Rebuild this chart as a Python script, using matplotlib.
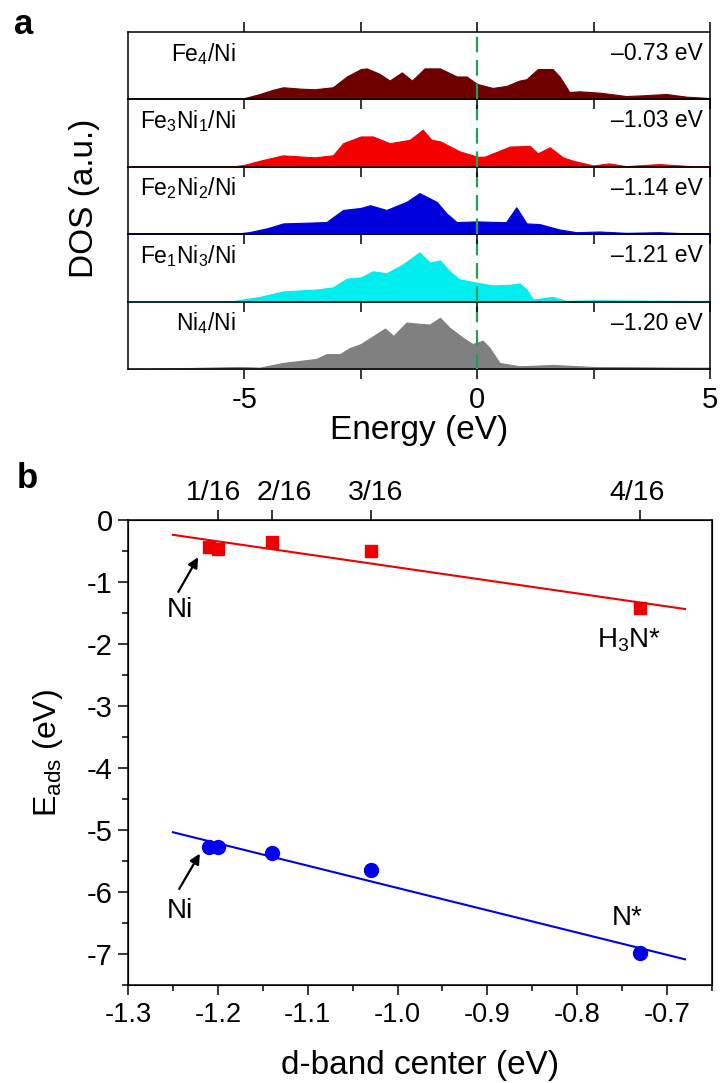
import numpy as np
import matplotlib
matplotlib.use("Agg")
import matplotlib.pyplot as plt
from matplotlib.ticker import MultipleLocator, FixedLocator
from matplotlib.transforms import ScaledTranslation

plt.rcParams['font.family'] = ['Liberation Sans', 'DejaVu Sans']
plt.rcParams['mathtext.default'] = 'regular'

# ---------------- panel a data ----------------
dos_labels = ["Fe$_4$/Ni", "Fe$_3$Ni$_1$/Ni", "Fe$_2$Ni$_2$/Ni", "Fe$_1$Ni$_3$/Ni", "Ni$_4$/Ni"]
dband_labels = ["\u20130.73 eV", "\u20131.03 eV", "\u20131.14 eV", "\u20131.21 eV", "\u20131.20 eV"]
dos_colors = ["#6E0000", "#F50000", "#0000DD", "#00EEEE", "#808080"]

e_fe4 = [-7.5, -5.3, -5.0, -4.67, -4.4, -4.17, -3.8, -3.5, -3.1, -2.8, -2.5, -2.37, -2.1, -1.88,
         -1.62, -1.4, -1.13, -0.8, -0.44, -0.23, 0.0, 0.33, 0.63, 0.91, 1.06, 1.3, 1.62, 1.77,
         1.98, 2.2, 2.63, 3.2, 3.55, 4.06, 4.5, 5.0]
d_fe4 = [0, 0.0, 0.02, 0.08, 0.14, 0.18, 0.16, 0.15, 0.18, 0.34, 0.45, 0.46, 0.38, 0.28,
         0.40, 0.28, 0.46, 0.46, 0.34, 0.34, 0.23, 0.17, 0.20, 0.28, 0.30, 0.45, 0.45, 0.34,
         0.11, 0.12, 0.10, 0.05, 0.06, 0.08, 0.04, 0.02]

e_fe3 = [-7.5, -5.3, -5.0, -4.67, -4.17, -3.5, -3.1, -2.88, -2.5, -2.24, -1.88, -1.45, -1.17,
         -0.98, -0.8, -0.38, 0.0, 0.16, 0.7, 1.13, 1.3, 1.56, 1.84, 2.06, 2.49, 2.83, 3.2, 3.9,
         4.6, 5.0]
d_fe3 = [0, 0, 0.03, 0.09, 0.17, 0.14, 0.17, 0.35, 0.45, 0.45, 0.35, 0.40, 0.55,
         0.40, 0.38, 0.23, 0.15, 0.15, 0.30, 0.31, 0.20, 0.29, 0.14, 0.09, 0.02, 0.05, 0.01, 0.04,
         0.01, 0.01]

e_fe2 = [-7.5, -5.3, -4.9, -4.5, -4.17, -3.24, -2.88, -2.5, -2.3, -1.95, -1.52, -1.24, -0.87,
         -0.66, -0.44, 0.0, 0.48, 0.62, 0.84, 1.06, 1.34, 1.77, 2.13, 2.63, 3.2, 3.9, 4.6, 5.0]
d_fe2 = [0, 0, 0.03, 0.09, 0.16, 0.18, 0.36, 0.39, 0.43, 0.36, 0.48, 0.61, 0.48,
         0.31, 0.18, 0.19, 0.18, 0.18, 0.40, 0.16, 0.15, 0.07, 0.03, 0.04, 0.02, 0.03, 0.01, 0.01]

e_fe1 = [-7.5, -5.3, -4.67, -4.17, -3.45, -3.1, -2.8, -2.5, -2.24, -1.95, -1.6, -1.24, -1.02,
         -0.8, -0.59, -0.38, 0.0, 0.33, 0.7, 0.91, 1.06, 1.2, 1.62, 1.9, 2.5, 4.6, 5.0]
d_fe1 = [0, 0, 0.07, 0.15, 0.18, 0.21, 0.34, 0.36, 0.45, 0.42, 0.55, 0.73, 0.58,
         0.61, 0.45, 0.33, 0.28, 0.24, 0.25, 0.27, 0.18, 0.03, 0.07, 0.01, 0.02, 0.01, 0.01]

e_ni4 = [-7.5, -6.5, -5.1, -4.67, -4.17, -3.45, -3.24, -2.95, -2.74, -2.5, -1.98, -1.8, -1.52,
         -1.24, -1.02, -0.8, -0.59, -0.3, -0.1, 0.12, 0.27, 0.48, 0.91, 1.62, 2.5, 4.6, 5.0]
d_ni4 = [0, 0.01, 0.03, 0.02, 0.09, 0.15, 0.22, 0.22, 0.31, 0.37, 0.60, 0.49, 0.69,
         0.67, 0.66, 0.76, 0.61, 0.46, 0.37, 0.42, 0.31, 0.09, 0.04, 0.06, 0.03, 0.02, 0.02]

energies = [e_fe4, e_fe3, e_fe2, e_fe1, e_ni4]
dos_vals = [d_fe4, d_fe3, d_fe2, d_fe1, d_ni4]

# ---------------- panel b data ----------------
dband = [-1.21, -1.20, -1.14, -1.03, -0.73]
e_h3n = [-0.43, -0.46, -0.36, -0.50, -1.42]
e_n = [-5.28, -5.28, -5.37, -5.65, -6.98]
top_ticks = [-1.20, -1.14, -1.03, -0.73]
top_labels = ["1/16", "2/16", "3/16", "4/16"]

W, H = 723, 1083
fig = plt.figure(figsize=(W / 100, H / 100), dpi=100)

# ---------- panel a ----------
a_left, a_right = 128 / W, 710 / W
a_top, a_bot = 1 - 32 / H, 1 - 369 / H
n = len(dos_labels)
ph = (a_top - a_bot) / n
axes_a = []
for i in range(n):
    ax = fig.add_axes([a_left, a_top - (i + 1) * ph, a_right - a_left, ph])
    axes_a.append(ax)
    ax.fill_between(energies[i], 0, dos_vals[i], color=dos_colors[i], lw=0.8,
                    edgecolor=dos_colors[i], zorder=2)
    ax.set_xlim(-7.5, 5)
    ax.set_ylim(0, 1)
    ax.axvline(0, color="#229E58", lw=1.6, dashes=(7, 3.5), zorder=3)
    ax.set_yticks([])
    ax.xaxis.set_major_locator(FixedLocator([-5, 0, 5]))
    ax.xaxis.set_minor_locator(FixedLocator([-2.5, 2.5]))
    ax.tick_params(axis='x', which='both', direction='out', length=7, width=1.1,
                   labelsize=21, pad=5, top=(i == 0), labelbottom=(i == n - 1))
    for s in ax.spines.values():
        s.set_linewidth(1.1)
    ax.text(-5.18, 0.68, dos_labels[i], ha='right', va='center', fontsize=16.5)
    ax.text(4.84, 0.68, dband_labels[i], ha='right', va='center', fontsize=16.5)
    ax.set_zorder(n - i)
    ax.patch.set_alpha(0)
axes_a[-1].set_xticklabels(["-5", "0", "5"])
axes_a[-1].set_xlabel("Energy (eV)", fontsize=24, labelpad=1)
fig.text(84 / W, 1 - 198 / H, "DOS (a.u.)", rotation=90, ha='center', va='center', fontsize=24)
fig.text(14 / W, 1 - 24 / H, "a", fontsize=25, fontweight='bold', ha='left', va='center')

# ---------- panel b ----------
b_left, b_right = 128 / W, 712 / W
b_top, b_bot = 1 - 520 / H, 1 - 985 / H
axb = fig.add_axes([b_left, b_bot, b_right - b_left, b_top - b_bot])
xfit = np.array([-1.25, -0.68])
for yv, col, mk, ms in [(e_h3n, "#EE0000", 's', 9), (e_n, "#0000EE", 'o', 10)]:
    p = np.polyfit(dband, yv, 1)
    axb.plot(xfit, np.polyval(p, xfit), color=col, lw=1.5, zorder=2)
    axb.plot(dband, yv, mk, color=col, ms=ms, mec=col, zorder=3)
axb.set_xlim(-1.3, -0.65)
axb.set_ylim(-7.5, 0)
axb.xaxis.set_major_locator(FixedLocator([-1.3, -1.2, -1.1, -1.0, -0.9, -0.8, -0.7]))
axb.xaxis.set_minor_locator(MultipleLocator(0.05))
axb.set_xticklabels(["-1.3", "-1.2", "-1.1", "-1.0", "-0.9", "-0.8", "-0.7"])
axb.yaxis.set_minor_locator(MultipleLocator(0.5))
axb.set_yticks(range(0, -8, -1))
axb.set_yticklabels([str(v) if v == 0 else "-%d" % (-v) for v in range(0, -8, -1)])
axb.tick_params(axis='x', which='major', direction='out', length=7, width=1.1, labelsize=19.5, pad=5)
axb.tick_params(axis='y', which='major', direction='out', length=7, width=1.1, labelsize=21, pad=4)
axb.tick_params(axis='both', which='minor', direction='out', length=4, width=1.1)
for s in axb.spines.values():
    s.set_linewidth(1.1)
axb.set_xlabel("d-band center (eV)", fontsize=24, labelpad=16)
axb.set_ylabel("E$_{ads}$ (eV)", fontsize=23, labelpad=16)

axt = axb.twiny()
axt.set_xlim(axb.get_xlim())
axt.set_xticks(top_ticks)
axt.set_xticklabels(top_labels)
axt.tick_params(axis='x', direction='out', length=7, width=1.1, labelsize=20.5, pad=3)
shifts_px = [-4, 12, 5, -3]
for lab, dx in zip(axt.get_xticklabels(), shifts_px):
    lab.set_transform(lab.get_transform() + ScaledTranslation(dx / 100, 0, fig.dpi_scale_trans))

arrow_kw = dict(arrowstyle='-|>', color='black', lw=1.6, mutation_scale=15, shrinkA=0, shrinkB=0)
axb.annotate("", xy=(-1.222, -0.6), xytext=(-1.244, -1.16), arrowprops=arrow_kw)
axb.text(-1.242, -1.45, "Ni", ha='center', va='center', fontsize=20)
axb.annotate("", xy=(-1.22, -5.38), xytext=(-1.243, -5.95), arrowprops=arrow_kw)
axb.text(-1.242, -6.3, "Ni", ha='center', va='center', fontsize=20)
axb.text(-0.742, -1.94, "H$_3$N*", ha='center', va='center', fontsize=20)
axb.text(-0.745, -6.42, "N*", ha='center', va='center', fontsize=20)
fig.text(17 / W, 1 - 479 / H, "b", fontsize=25, fontweight='bold', ha='left', va='center')

fig.savefig("out.png", dpi=100)
